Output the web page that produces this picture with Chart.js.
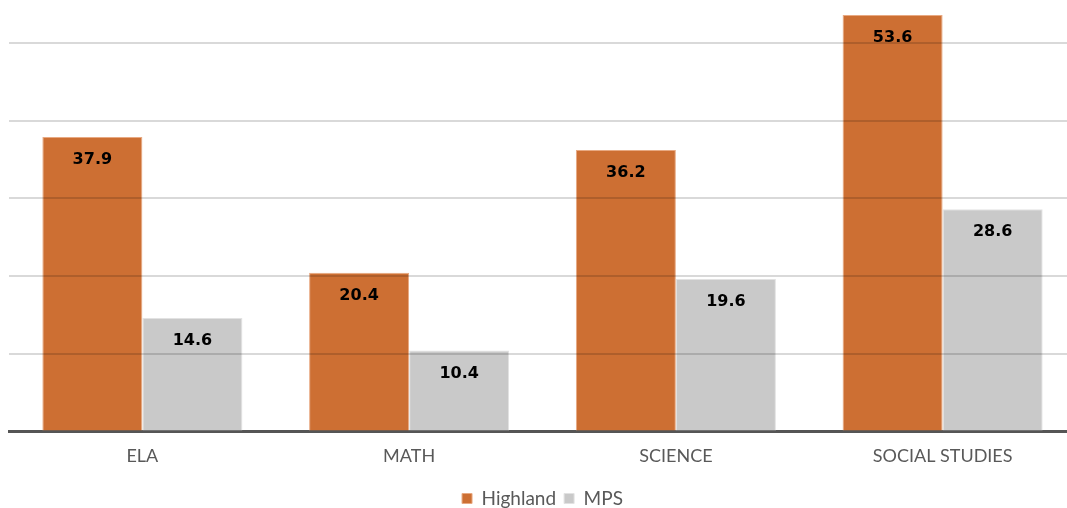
<!DOCTYPE html>
<html lang="en">
<head>
    <meta charset="UTF-8">
    <title>Highland vs MPS</title>
    <script src="https://cdn.jsdelivr.net/npm/chart.js"></script>
    <style>
        html, body { margin: 0; padding: 0; background: #fff; overflow: hidden; }
        /* the plot runs a little past the right edge in the original */
        #wrap { width: 1076px; height: 508px; }
    </style>
</head>
<body>
    <div id="wrap"><canvas id="chart"></canvas></div>

    <script>
        const subjects = ['ELA', 'MATH', 'SCIENCE', 'SOCIAL STUDIES'];
        const highland = [37.9, 20.4, 36.2, 53.6];
        const mps = [14.6, 10.4, 19.6, 28.6];

        // value labels drawn inside the top of each bar
        const barLabels = {
            id: 'barLabels',
            afterDatasetsDraw(chart) {
                const ctx = chart.ctx;
                ctx.save();
                ctx.font = 'bold 16px "DejaVu Sans", Verdana, sans-serif';
                ctx.fillStyle = '#000';
                ctx.textAlign = 'center';
                ctx.textBaseline = 'middle';
                chart.data.datasets.forEach((ds, i) => {
                    chart.getDatasetMeta(i).data.forEach((bar, j) => {
                        ctx.fillText(ds.data[j].toFixed(1), bar.x, bar.y + 23);
                    });
                });
                ctx.restore();
            }
        };

        new Chart(document.getElementById('chart'), {
            type: 'bar',
            data: {
                labels: subjects,
                datasets: [
                    {
                        label: 'Highland',
                        data: highland,
                        backgroundColor: '#cd6f33',
                        borderColor: '#e8a982',
                        borderWidth: 1
                    },
                    {
                        label: 'MPS',
                        data: mps,
                        backgroundColor: '#c9c9c9',
                        borderColor: '#e2e2e2',
                        borderWidth: 1
                    }
                ]
            },
            options: {
                responsive: true,
                maintainAspectRatio: false,
                animation: false,
                layout: { padding: { left: 9, right: 0, top: 4, bottom: -10 } },
                datasets: {
                    bar: { categoryPercentage: 0.75, barPercentage: 1 }
                },
                plugins: {
                    legend: {
                        position: 'bottom',
                        labels: {
                            boxWidth: 10,
                            boxHeight: 10,
                            padding: 8,
                            color: '#595959',
                            font: { family: 'Lato, "Open Sans", sans-serif', size: 19 }
                        }
                    },
                    tooltip: { enabled: false }
                },
                scales: {
                    x: {
                        grid: { display: false },
                        border: { color: '#555', width: 3 },
                        ticks: {
                            color: '#595959',
                            padding: 6,
                            font: { family: 'Lato, "Open Sans", sans-serif', size: 18 }
                        },
                        afterFit: scale => { scale.height += 8; }
                    },
                    y: {
                        min: 0,
                        max: 55,
                        ticks: { display: false, stepSize: 10 },
                        border: { display: false },
                        grid: {
                            z: 1,
                            lineWidth: 2,
                            drawTicks: false,
                            color: ctx => (ctx.tick && (ctx.tick.value === 55 || ctx.tick.value === 0)) ? 'rgba(0,0,0,0)' : 'rgba(0,0,0,0.15)'
                        }
                    }
                }
            },
            plugins: [barLabels]
        });
    </script>
</body>
</html>
